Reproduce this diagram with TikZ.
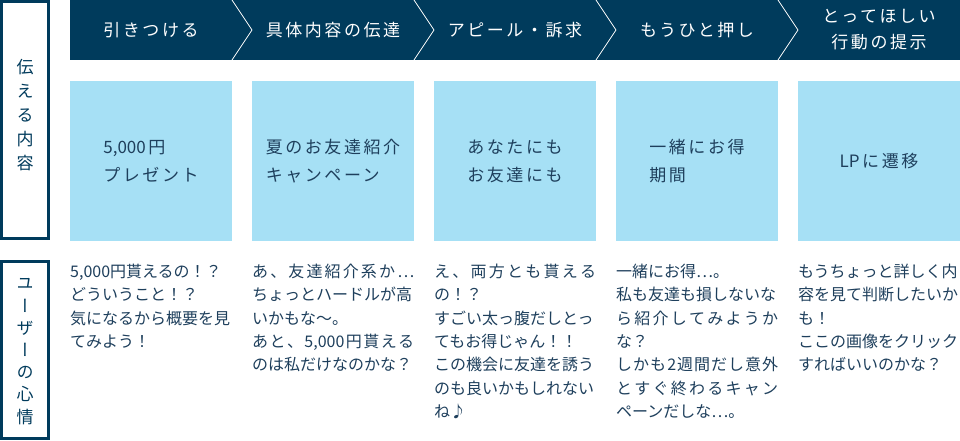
\documentclass[tikz,border=0pt]{standalone}
\usepackage{fontspec}
\usepackage{graphicx}
\setmainfont{Noto Sans CJK JP}
\newfontfamily\agheadfont[LetterSpace=15]{Noto Sans CJK JP}
\newfontfamily\agvertfont[RawFeature=+vert]{Noto Sans CJK JP}
\usetikzlibrary{positioning}
\definecolor{ag-navy}{HTML}{003B5C}
\definecolor{ag-sky}{HTML}{A6E0F5}
\definecolor{ag-ink}{HTML}{1E3F5C}
\newdimen\agcolwidth
\setlength{\agcolwidth}{162pt}
\tikzstyle{agheadstyle}=[text=white,font=\agheadfont\fontsize{17}{26}\selectfont,align=center,inner sep=0pt]
\tikzstyle{agboxstyle}=[shape=rectangle,fill=ag-sky,minimum width=162pt,minimum height=160pt,inner sep=0pt,text=ag-ink,font=\agheadfont\fontsize{17}{28}\selectfont,align=left]
\tikzstyle{aglabelstyle}=[shape=rectangle,draw=ag-navy,line width=3pt,fill=white,minimum width=47pt,inner sep=0pt]
\tikzstyle{agverttext}=[text=ag-navy,font=\agvertfont\fontsize{17}{24}\selectfont,align=center,inner sep=0pt]
\tikzstyle{agvoicestyle}=[anchor=north west,inner sep=0pt,text=ag-ink,font=\fontsize{16}{23.3}\selectfont,align=left]
\makeatletter
\newcommand{\agspread}[1]{\makebox[\agcolwidth][s]{\@tfor\agch:=#1\do{\agch\hfil}\unskip}}
\makeatother
\newcommand{\aglatin}[1]{{\rmfamily #1}\hspace{2.5pt}}
\newcommand{\agstage}[4]{ \node[agheadstyle] (#1head) at (#2,30) {#3}; \node[agboxstyle] (#1box) at (#2,161) {#4}; }
\newcommand{\agvoice}[3]{ \node[agvoicestyle] (#1voice) at (#2,264) {#3}; }

\begin{document}
\begin{tikzpicture}[x=1pt,y=-1pt]
\useasboundingbox (0,0) rectangle (960,440);
% header band and chevrons
\fill[ag-navy] (70,0) rectangle (960,60);
\foreach \cx in {232,414,596,778} \draw[white,line width=0.8pt] (\cx,0) -- (\cx+20,30) -- (\cx,60);
% row labels
\node[aglabelstyle,minimum height=236.5pt] (convey) at (25,119.75) {};
\node[agverttext] (conveytext) at (25,115) {伝\\え\\る\\内\\容};
\node[aglabelstyle,minimum height=177pt] (feeling) at (25,350) {};
\node[agverttext,font=\agvertfont\fontsize{17}{22.2}\selectfont] (feelingtext) at (25,351.5) {ユ\\ー\\ザ\\ー\\の\\心\\情};
% stages
\agstage{hook}{151}{引きつける}{\aglatin{5,000}円\\プレゼント} %
\agstage{detail}{333}{具体内容の伝達}{夏のお友達紹介\\キャンペーン} %
\agstage{appeal}{515}{アピール・訴求}{あなたにも\\お友達にも} %
\agstage{push}{697}{もうひと押し}{一緒にお得\\期間} %
\agstage{action}{879}{とってほしい\\行動の提示}{\aglatin{LP}に遷移} %
% user voices
\agvoice{hook}{70}{5,000円貰えるの！？\\どういうこと！？\\気になるから概要を見\\てみよう！} %
\agvoice{detail}{252}{\agspread{あ、友達紹介系か…}\\ちょっとハードルが高\\いかもな〜。\\\agspread{あと、{5,000}円貰える}\\のは私だけなのかな？} %
\agvoice{appeal}{434}{\agspread{え、両方とも貰える}\\の！？\\すごい太っ腹だしとっ\\てもお得じゃん！！\\この機会に友達を誘う\\のも良いかもしれない\\ね♪} %
\agvoice{push}{616}{一緒にお得…。\\私も友達も損しないな\\\agspread{ら紹介してみようか}\\な？\\\agspread{しかも2週間だし意外}\\\agspread{とすぐ終わるキャン}\\ペーンだしな…。} %
\agvoice{action}{798}{もうちょっと詳しく内\\容を見て判断したいか\\も！\\ここの画像をクリック\\すればいいのかな？} %
\end{tikzpicture}
\end{document}
